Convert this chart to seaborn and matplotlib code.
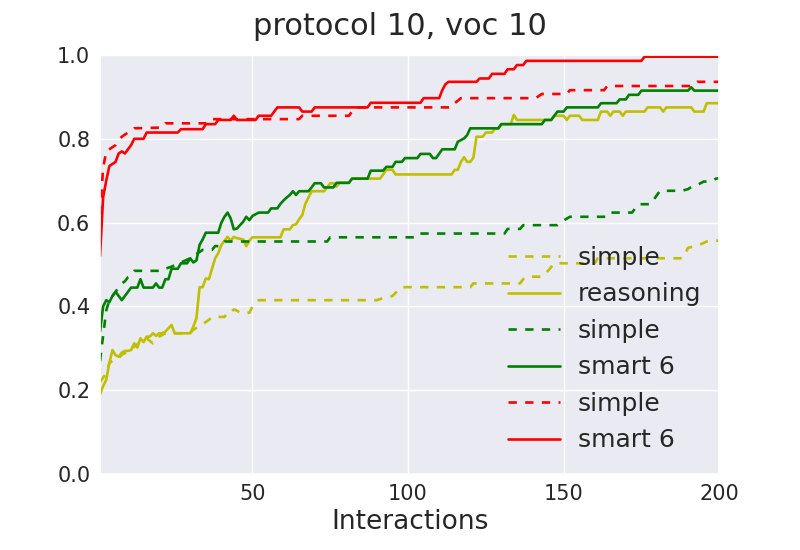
import matplotlib
matplotlib.use("Agg")
import matplotlib.pyplot as plt
import seaborn as sns
import pandas as pd

# ---- data (breakpoints) ----
red_smart_x = [1,2,3,4,5,6,7,8,9,10,11,12,15,16,26,27,34,35,38,39,43,44,45,51,52,56,57,58,65,66,69,70,87,88,104,105,110,111,112,113,122,123,126,127,131,132,134,135,137,138,175,176,200]
red_smart_y = [0.52,0.66,0.70,0.735,0.74,0.745,0.765,0.77,0.765,0.775,0.785,0.80,0.80,0.815,0.815,0.823,0.823,0.835,0.835,0.845,0.845,0.855,0.845,0.845,0.855,0.855,0.865,0.875,0.875,0.865,0.865,0.875,0.875,0.886,0.886,0.897,0.897,0.916,0.93,0.936,0.936,0.944,0.944,0.955,0.955,0.966,0.966,0.976,0.976,0.986,0.986,0.996,0.996]

red_simple_x = [1,2,3,4,5,6,7,8,9,10,11,12,21,22,35,36,65,66,81,83,114,115,117,141,143,151,152,163,164,191,193,200]
red_simple_y = [0.62,0.73,0.77,0.775,0.78,0.785,0.797,0.805,0.81,0.815,0.817,0.825,0.827,0.837,0.837,0.847,0.847,0.855,0.855,0.875,0.875,0.885,0.897,0.897,0.907,0.907,0.916,0.916,0.926,0.926,0.936,0.936]

green_smart_x = [1,2,3,4,5,6,8,9,11,13,14,15,18,19,20,21,22,23,24,26,27,29,30,31,32,33,34,35,39,40,41,42,43,44,45,47,48,49,50,52,55,56,58,59,60,61,62,63,64,65,68,69,70,72,73,76,77,81,82,87,88,92,93,95,96,98,99,103,104,107,108,109,111,115,116,117,118,119,120,129,130,143,144,146,147,148,150,151,161,162,167,168,170,171,174,175,190,191,192,200]
green_smart_y = [0.34,0.40,0.415,0.41,0.425,0.435,0.415,0.425,0.445,0.445,0.465,0.445,0.445,0.455,0.445,0.445,0.465,0.465,0.49,0.49,0.503,0.503,0.515,0.505,0.51,0.547,0.56,0.576,0.576,0.60,0.614,0.624,0.61,0.584,0.586,0.602,0.614,0.606,0.616,0.624,0.624,0.634,0.634,0.645,0.653,0.66,0.666,0.675,0.666,0.675,0.675,0.684,0.694,0.694,0.684,0.684,0.695,0.695,0.705,0.705,0.724,0.724,0.733,0.733,0.745,0.745,0.754,0.754,0.764,0.764,0.754,0.754,0.775,0.775,0.793,0.797,0.801,0.809,0.825,0.825,0.835,0.835,0.845,0.845,0.855,0.865,0.865,0.875,0.875,0.885,0.885,0.894,0.894,0.905,0.905,0.915,0.915,0.923,0.915,0.915]

green_simple_x = [1,2,3,4,5,6,7,8,9,10,11,12,21,22,24,27,30,32,34,37,38,40,41,74,75,102,103,131,132,136,137,148,150,152,164,165,172,173,174,178,180,181,188,190,191,193,195,197,199,200]
green_simple_y = [0.27,0.33,0.39,0.415,0.425,0.435,0.445,0.455,0.46,0.47,0.475,0.485,0.485,0.49,0.495,0.505,0.515,0.525,0.535,0.535,0.544,0.544,0.555,0.555,0.565,0.565,0.574,0.574,0.585,0.585,0.594,0.594,0.605,0.614,0.614,0.624,0.624,0.634,0.644,0.644,0.666,0.676,0.676,0.68,0.685,0.69,0.698,0.698,0.705,0.706]

yellow_reason_x = [1,2,3,4,5,6,7,8,9,10,11,12,13,14,15,16,17,18,19,20,21,22,23,24,25,30,31,32,33,34,35,36,37,38,39,40,42,43,44,45,47,48,49,50,59,60,62,63,64,65,66,67,68,69,73,74,75,76,77,78,81,82,91,92,93,95,96,114,115,116,117,118,119,120,121,122,124,125,127,128,129,130,133,134,135,146,147,150,151,152,155,156,161,162,164,165,166,168,169,170,176,177,181,182,183,191,192,195,196,200]
yellow_reason_y = [0.19,0.21,0.225,0.265,0.296,0.284,0.28,0.29,0.294,0.294,0.296,0.312,0.302,0.324,0.315,0.328,0.328,0.336,0.33,0.336,0.336,0.34,0.348,0.356,0.336,0.336,0.352,0.372,0.446,0.446,0.467,0.465,0.49,0.515,0.527,0.547,0.566,0.557,0.566,0.563,0.56,0.544,0.557,0.565,0.565,0.584,0.584,0.594,0.596,0.608,0.618,0.645,0.66,0.675,0.675,0.684,0.694,0.694,0.686,0.695,0.695,0.705,0.705,0.715,0.726,0.726,0.715,0.715,0.726,0.726,0.745,0.756,0.745,0.745,0.755,0.805,0.805,0.815,0.815,0.825,0.825,0.835,0.835,0.857,0.845,0.845,0.855,0.855,0.845,0.855,0.855,0.845,0.845,0.865,0.865,0.855,0.865,0.865,0.855,0.865,0.865,0.875,0.875,0.865,0.875,0.875,0.865,0.865,0.885,0.885]

yellow_simple_x = [1,2,3,4,5,6,7,8,10,12,14,16,17,18,20,22,30,31,33,34,36,37,41,42,43,44,45,46,49,50,51,52,90,92,94,95,97,98,120,121,136,137,138,143,145,147,160,161,188,189,190,193,196,198,200]
yellow_simple_y = [0.22,0.23,0.24,0.265,0.27,0.275,0.276,0.285,0.292,0.304,0.316,0.324,0.318,0.312,0.328,0.336,0.336,0.345,0.352,0.358,0.368,0.375,0.375,0.385,0.385,0.393,0.39,0.385,0.385,0.40,0.407,0.415,0.415,0.42,0.423,0.425,0.44,0.446,0.446,0.455,0.455,0.465,0.471,0.471,0.485,0.503,0.503,0.515,0.515,0.525,0.54,0.545,0.555,0.557,0.557]

YELLOW = (0.75, 0.75, 0.0)
GREEN = (0.0, 0.5, 0.0)
RED = (1.0, 0.0, 0.0)

series = [
    ("simple", yellow_simple_x, yellow_simple_y, YELLOW, "dash"),
    ("reasoning", yellow_reason_x, yellow_reason_y, YELLOW, "solid"),
    ("simple", green_simple_x, green_simple_y, GREEN, "dash"),
    ("smart 6", green_smart_x, green_smart_y, GREEN, "solid"),
    ("simple", red_simple_x, red_simple_y, RED, "dash"),
    ("smart 6", red_smart_x, red_smart_y, RED, "solid"),
]

sns.set_theme(style="darkgrid")
plt.rcParams['font.family'] = ['DejaVu Sans']
plt.rcParams['lines.scale_dashes'] = False

fig = plt.figure(figsize=(8, 5.5), dpi=100)
ax = fig.add_axes([0.125, 0.138, 0.774, 0.762])

for label, xs, ys, col, style in series:
    df = pd.DataFrame({"x": xs, "y": ys})
    sns.lineplot(data=df, x="x", y="y", color=col,
                 linewidth=1.9, label=label, ax=ax, estimator=None, sort=False)
    line = ax.lines[-1]
    if style == "dash":
        line.set_linestyle((0, (6, 6)))

ax.set_xlim(1, 200)
ax.set_ylim(0, 1.0)
ax.set_xticks([50, 100, 150, 200])
ax.set_yticks([0.0, 0.2, 0.4, 0.6, 0.8, 1.0])
ax.set_yticklabels(["0.0", "0.2", "0.4", "0.6", "0.8", "1.0"])
ax.tick_params(labelsize=15, length=0, pad=7)
ax.set_xlabel("Interactions", fontsize=19, labelpad=4)
ax.set_ylabel("")
fig.suptitle("protocol 10, voc 10", fontsize=22, x=0.5, y=1 - 35 / 550, va="baseline")
ax.legend(loc="lower right", bbox_to_anchor=(1.007, -0.002), fontsize=18,
          frameon=False, handlelength=2.1, handletextpad=0.7)

fig.savefig("out.png", dpi=100)
